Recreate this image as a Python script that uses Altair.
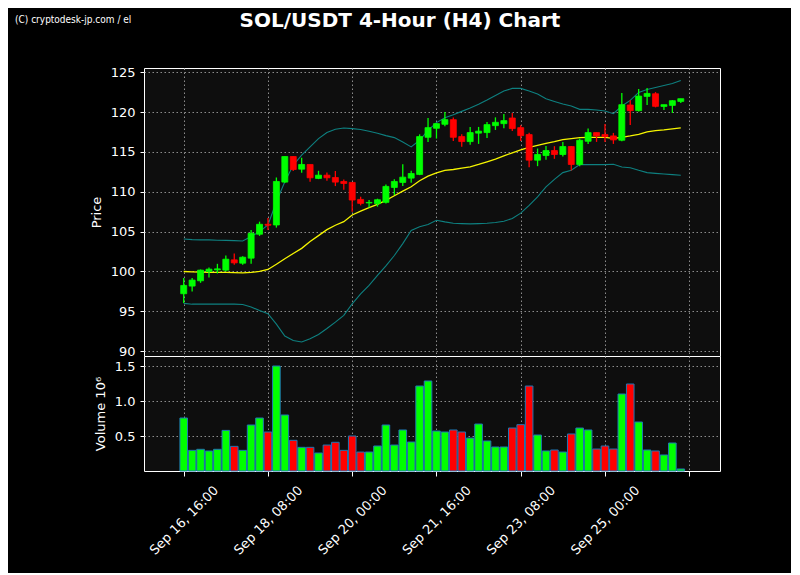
import json
import altair as alt
import pandas as pd

TITLE = "SOL/USDT 4-Hour (H4) Chart"
WATERMARK = "(C) cryptodesk-jp.com / el"

# 4-hour candles, first one = Sep 16 16:00
candle_no = list(range(60))
opens = [97.21, 98.17, 98.83, 100.0, 100.2, 100.17, 101.46, 101.04, 101.67, 104.67,
         105.92, 105.83, 111.21, 114.42, 112.83, 113.42, 111.67, 112.08, 111.79, 111.29,
         111.17, 109.04, 108.6, 108.5, 108.67, 110.54, 111.17, 111.71, 112.17, 116.83,
         117.96, 118.46, 119.04, 116.92, 116.29, 117.35, 117.42, 118.29, 118.54, 119.25,
         118.04, 117.17, 113.96, 114.54, 115.17, 114.67, 115.67, 113.42, 116.33, 117.42,
         117.17, 117.0, 116.46, 120.88, 120.17, 121.96, 122.29, 120.7, 120.83, 121.33]
highs = [99.17, 99.17, 100.25, 100.5, 100.96, 102.0, 102.25, 101.9, 105.21, 106.25,
         106.7, 111.79, 114.42, 114.42, 114.25, 113.42, 112.63, 112.4, 112.6, 111.54,
         111.17, 109.38, 108.96, 109.13, 110.92, 111.58, 113.46, 112.63, 117.2, 119.25,
         118.6, 120.0, 119.3, 117.2, 118.13, 118.13, 118.75, 119.33, 119.75, 119.88,
         118.33, 117.4, 115.42, 115.75, 115.71, 116.25, 115.75, 116.67, 117.92, 117.42,
         118.5, 117.38, 122.38, 121.46, 122.88, 123.0, 122.5, 120.92, 121.5, 121.67]
lows = [96.04, 97.5, 98.58, 99.25, 99.75, 100.0, 100.83, 100.83, 100.96, 104.46,
        105.2, 105.5, 111.1, 112.6, 112.38, 111.25, 111.58, 111.38, 110.71, 110.25,
        107.5, 108.29, 108.04, 108.13, 108.54, 109.58, 110.71, 111.13, 112.08, 116.25,
        116.67, 118.2, 116.38, 115.63, 115.88, 116.0, 116.75, 117.75, 117.96, 117.63,
        116.38, 113.08, 113.21, 114.0, 114.13, 114.42, 112.67, 113.2, 116.0, 116.25,
        116.25, 116.0, 116.33, 118.38, 120.08, 120.88, 120.58, 120.25, 119.88, 121.13]
closes = [98.25, 98.92, 100.17, 100.29, 100.33, 101.54, 101.08, 101.79, 104.79, 105.92,
          105.8, 111.29, 114.42, 112.79, 113.42, 111.75, 112.08, 111.75, 111.21, 111.04,
          108.96, 108.54, 108.66, 109.0, 110.67, 111.29, 111.83, 112.29, 116.92, 118.04,
          118.54, 119.04, 116.83, 116.29, 117.42, 117.6, 118.42, 118.71, 118.92, 117.92,
          117.04, 113.96, 114.67, 115.17, 114.67, 115.67, 113.42, 116.46, 117.42, 117.0,
          116.92, 116.5, 120.92, 120.17, 122.0, 122.33, 120.71, 120.92, 121.42, 121.67]
volumes_m = [0.757, 0.295, 0.31, 0.286, 0.31, 0.58, 0.352, 0.295, 0.657, 0.757,
             0.557, 1.5, 0.8, 0.438, 0.338, 0.338, 0.257, 0.371, 0.41, 0.295,
             0.5, 0.271, 0.271, 0.357, 0.657, 0.371, 0.586, 0.414, 1.214, 1.286,
             0.571, 0.557, 0.586, 0.557, 0.471, 0.671, 0.429, 0.343, 0.343, 0.614,
             0.662, 1.214, 0.514, 0.286, 0.3, 0.271, 0.529, 0.614, 0.586, 0.314,
             0.357, 0.314, 1.1, 1.243, 0.7, 0.3, 0.286, 0.229, 0.4, 0.029]
bb_mid = [100.0, 99.95, 99.92, 99.9, 99.88, 99.88, 99.85, 99.83, 99.88, 100.0,
          100.25, 100.9, 101.6, 102.25, 102.9, 103.75, 104.5, 105.25, 105.8, 106.25,
          107.08, 107.58, 108.0, 108.42, 108.92, 109.5, 110.08, 110.63, 111.38, 111.96,
          112.38, 112.67, 112.79, 112.96, 113.13, 113.42, 113.75, 114.08, 114.5, 114.88,
          115.25, 115.56, 115.83, 116.08, 116.29, 116.54, 116.67, 116.79, 116.83, 116.83,
          116.83, 116.7, 116.83, 117.0, 117.2, 117.5, 117.67, 117.75, 117.88, 118.0]
bb_upper = [104.08, 104.0, 103.96, 103.96, 103.92, 103.9, 103.87, 103.83, 104.4, 105.0,
            105.83, 108.75, 111.25, 113.33, 114.58, 115.63, 116.67, 117.42, 117.83, 118.0,
            117.92, 117.8, 117.58, 117.33, 117.04, 116.79, 116.25, 115.63, 116.46, 117.71,
            118.67, 119.29, 119.67, 120.08, 120.5, 120.96, 121.5, 122.08, 122.63, 122.96,
            122.96, 122.63, 122.25, 121.67, 121.33, 121.0, 120.75, 120.33, 120.33, 120.25,
            120.13, 119.79, 120.75, 121.46, 122.46, 122.83, 123.08, 123.33, 123.58, 123.96]
bb_lower = [96.0, 95.9, 95.9, 95.9, 95.9, 95.9, 95.9, 95.85, 95.55, 95.1,
            94.7, 93.4, 91.9, 91.35, 91.15, 91.55, 92.1, 92.85, 93.65, 94.5,
            95.95, 97.2, 98.25, 99.5, 100.7, 102.0, 103.5, 105.15, 105.6, 105.9,
            106.42, 106.22, 106.05, 106.0, 105.97, 106.0, 106.05, 106.14, 106.3, 106.64,
            107.32, 108.3, 109.35, 110.6, 111.56, 112.4, 112.69, 113.4, 113.4, 113.4,
            113.4, 113.44, 113.11, 113.02, 112.69, 112.4, 112.31, 112.23, 112.15, 112.06]

price_ticks = [90, 95, 100, 105, 110, 115, 120, 125]
volume_ticks = [0.5, 1.0, 1.5]
x_tick_candles = [0, 10, 20, 30, 40, 50, 60]
x_tick_labels = ["Sep 16, 16:00", "Sep 18, 08:00", "Sep 20, 00:00", "Sep 21, 16:00",
                 "Sep 23, 08:00", "Sep 25, 00:00", ""]

df = pd.DataFrame({
    "i": candle_no, "open": opens, "high": highs, "low": lows, "close": closes,
    "vol": volumes_m, "mid": bb_mid, "upper": bb_upper, "lower": bb_lower,
})
df["dir"] = ["up" if c >= o else "down" for o, c in zip(opens, closes)]

UP, DOWN = "#00ff00", "#ff0000"
GRID = "#8c8c8c"
color = alt.Color("dir:N", scale=alt.Scale(domain=["up", "down"], range=[UP, DOWN]), legend=None)
xscale = alt.Scale(domain=[-4.12, 63.06], nice=False, zero=False)

x_top = alt.X("i:Q", scale=xscale, title=None,
              axis=alt.Axis(values=x_tick_candles, labels=False, ticks=False, domain=False,
                            grid=True, title=None))
label_expr = json.dumps(x_tick_labels) + "[round(datum.value / 10)]"
x_bottom = alt.X("i:Q", scale=xscale, title=None,
                 axis=alt.Axis(values=x_tick_candles, labelExpr=label_expr, labelAngle=-45,
                               labelAlign="center", labelBaseline="middle", labelPadding=44,
                               tickSize=5, domain=False, grid=True, labelOverlap=False,
                               labelBound=False, labelFlush=False, title=None))

pscale = alt.Scale(domain=[89.40, 125.52], nice=False, zero=False)
paxis = alt.Axis(values=price_ticks, tickSize=4, labelPadding=5, titlePadding=7,
                 domain=False, grid=True, title="Price")


def py(field):
    return alt.Y(f"{field}:Q", scale=pscale, axis=paxis, title="Price")


base = alt.Chart(df)
wicks = base.mark_rule(strokeWidth=1.3).encode(x=x_top, y=py("low"), y2="high:Q", color=color)
bodies = base.mark_bar(size=6, strokeWidth=0.8).encode(
    x=x_top, y=py("open"), y2="close:Q", color=color, stroke=color)
mid_line = base.mark_line(color="#f5f500", strokeWidth=1.3).encode(x=x_top, y=py("mid"))
up_line = base.mark_line(color="#0e8080", strokeWidth=1.1).encode(x=x_top, y=py("upper"))
lo_line = base.mark_line(color="#0e8080", strokeWidth=1.1).encode(x=x_top, y=py("lower"))

title_txt = alt.Chart(pd.DataFrame({"t": [TITLE]})).mark_text(
    font="DejaVu Sans", fontSize=20, fontWeight="bold", color="white",
    align="center", baseline="middle").encode(
    text="t:N", x=alt.value(256), y=alt.value(-47))
wm_txt = alt.Chart(pd.DataFrame({"t": [WATERMARK]})).mark_text(
    font="Liberation Sans Narrow, DejaVu Sans Condensed, sans-serif", fontSize=10,
    color="white", align="left", baseline="middle").encode(
    text="t:N", x=alt.value(-129), y=alt.value(-48))

price = alt.layer(lo_line, up_line, mid_line, wicks, bodies, title_txt, wm_txt).properties(
    width=576, height=288)

volume = base.mark_bar(size=7.6, stroke="#1f77b4", strokeWidth=1).encode(
    x=x_bottom,
    y=alt.Y("vol:Q", scale=alt.Scale(domain=[0, 1.643], nice=False),
            axis=alt.Axis(values=volume_ticks, format=".1f", tickSize=4, labelPadding=5,
                          titlePadding=7, domain=False, grid=True, title="Volume  10⁶"),
            title="Volume  10⁶"),
    color=color,
).properties(width=576, height=115)

chart = alt.vconcat(price, volume, spacing=0, bounds="flush").properties(
    padding={"left": 6, "top": 2, "right": 70, "bottom": 15},
).configure(background="black").configure_view(
    fill="#0e0e0e", stroke="white", strokeWidth=1
).configure_axis(
    labelColor="white", titleColor="white", tickColor="white",
    labelFont="DejaVu Sans", titleFont="DejaVu Sans", labelFontSize=13, titleFontSize=13,
    titleFontWeight="normal", gridColor=GRID, gridDash=[1.5, 2.5], gridWidth=1,
    tickWidth=1,
)

chart.save("out.html", embed_options={"renderer": "svg", "actions": False})
